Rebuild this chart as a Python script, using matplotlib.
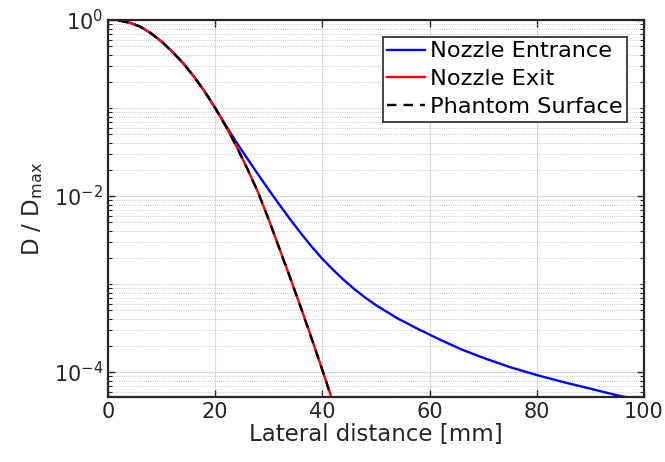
#!/usr/bin/python

# Lateral dose profiles at nozzle entrance, nozzle exit and phantom surface

import matplotlib
matplotlib.use('Agg')
import matplotlib.pyplot as plt
from matplotlib.ticker import LogLocator, NullFormatter, FixedLocator

# values
x_entrance = [2, 4, 6, 8, 10, 12, 14, 16, 18, 20, 22, 24, 26, 28, 30, 32, 34,
              36, 38, 40, 42, 44, 46, 48, 50, 54, 58, 62, 66, 70, 75, 80, 85,
              90, 95, 100]
d_entrance = [0.989, 0.933, 0.841, 0.708, 0.569, 0.437, 0.324, 0.229, 0.155,
              0.100, 0.0631, 0.0403, 0.0266, 0.0176, 0.01175, 0.00794, 0.00543,
              0.00376, 0.00266, 0.00193, 0.00145, 0.00111, 8.71e-4, 7.00e-4,
              5.75e-4, 4.07e-4, 3.05e-4, 2.32e-4, 1.80e-4, 1.45e-4, 1.135e-4,
              9.23e-5, 7.67e-5, 6.46e-5, 5.43e-5, 4.73e-5]

x_exit = [2, 4, 6, 8, 10, 12, 14, 16, 18, 20, 22, 24, 26, 28, 30, 32, 34, 36,
          38, 40, 42]
d_exit = [0.989, 0.933, 0.841, 0.708, 0.569, 0.437, 0.324, 0.229, 0.155,
          0.100, 0.0617, 0.0363, 0.0204, 0.0110, 0.00537, 0.00251, 0.00117,
          5.37e-4, 2.40e-4, 1.05e-4, 4.47e-5]

x_surface = [2, 4, 6, 8, 10, 12, 14, 16, 18, 20, 22, 24, 26, 28, 30, 32, 34,
             36, 38, 40, 42]
d_surface = [0.989, 0.933, 0.841, 0.708, 0.569, 0.437, 0.324, 0.229, 0.155,
             0.100, 0.0617, 0.0363, 0.0204, 0.0110, 0.00537, 0.00251, 0.00117,
             5.37e-4, 2.40e-4, 1.05e-4, 4.47e-5]

x_ticks = [0, 20, 40, 60, 80, 100]
y_ticks = [1e0, 1e-2, 1e-4]

plt.rcParams['font.family'] = 'DejaVu Sans'
plt.rcParams['mathtext.fontset'] = 'dejavusans'

fig = plt.figure(figsize=(6.65, 4.62), dpi=100)
ax = fig.add_axes([0.1624, 0.1407, 0.806, 0.816])

ax.plot(x_entrance, d_entrance, color='#0000ff', lw=1.7, label='Nozzle Entrance')
ax.plot(x_exit, d_exit, color='#ff0000', lw=1.7, label='Nozzle Exit')
ax.plot(x_surface, d_surface, 'k--', lw=1.7, dashes=(4, 3), label='Phantom Surface')

ax.set_yscale('log')
ax.set_xlim(0, 100)
ax.set_ylim(5.2e-5, 1)
ax.set_xticks(x_ticks)
ax.yaxis.set_major_locator(FixedLocator(y_ticks))
ax.yaxis.set_minor_locator(LogLocator(base=10, subs=range(1, 10), numticks=20))
ax.yaxis.set_minor_formatter(NullFormatter())

ax.grid(True, which='major', color='#d8d8d8', lw=0.8, ls='-')
ax.grid(True, which='minor', axis='y', color='#b8b8b8', lw=0.6, ls=':')
ax.set_axisbelow(True)

ax.tick_params(which='both', direction='in', top=True, right=True,
               labelsize=15, colors='#262626', labelcolor='#262626')
ax.tick_params(which='major', length=5, width=1)
ax.tick_params(which='minor', length=3, width=0.8)
for s in ax.spines.values():
    s.set_linewidth(1.6)
    s.set_color('#262626')

ax.set_xlabel('Lateral distance [mm]', fontsize=16.5, color='#262626', labelpad=1)
ax.set_ylabel(r'D / D$_{\mathregular{max}}$', fontsize=16.5, color='#262626',
              labelpad=6)

leg = ax.legend(loc='upper right', fontsize=16.2, frameon=True, fancybox=False,
                handlelength=1.7, handletextpad=0.2, borderpad=0.2,
                labelspacing=0.35, borderaxespad=0.75, framealpha=1)
leg.get_frame().set_edgecolor('#262626')
leg.get_frame().set_linewidth(1.2)

fig.savefig('out.png', dpi=100)
